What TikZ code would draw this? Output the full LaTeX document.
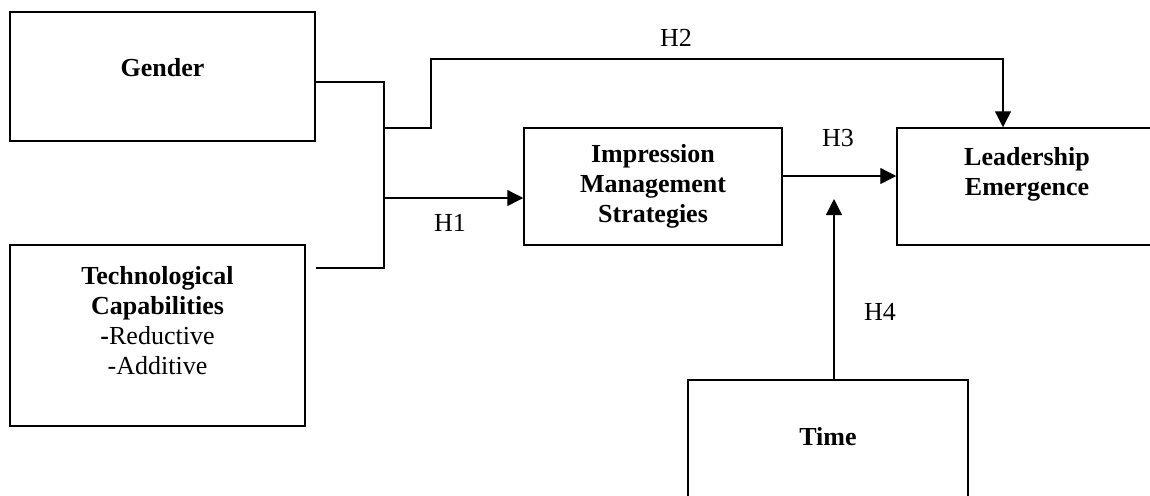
\documentclass[tikz,border=0pt]{standalone}
\usepackage{fontspec}
\setmainfont{Liberation Serif}
\usetikzlibrary{positioning, arrows.meta, calc}

\begin{document}
\begin{tikzpicture}[
  x=0.5pt, y=-0.5pt,
  box/.style={draw, line width=0.75pt, align=center, inner sep=0pt, font=\fontsize{13}{15}\selectfont},
  lbl/.style={inner sep=0pt, font=\fontsize{13}{15}\selectfont},
  arr/.style={-{Triangle[length=8pt, width=8pt]}, line width=0.65pt},
  link/.style={line width=0.65pt},
]
\clip (0,0) rectangle (1150,495);

% === PREDICTORS ===
\node[box, minimum width=152.5pt, minimum height=64.5pt, text depth=9pt] (gender) at (162.5,76.5) {\textbf{Gender}};
\node[box, minimum width=147.5pt, minimum height=90.5pt] (tech) at (157.5,335.5) {\textbf{Technological}\\\textbf{Capabilities}\\\textbf{-}Reductive\\-Additive\\\mbox{}};

% === MEDIATOR / OUTCOME ===
\node[box, minimum width=129pt, minimum height=58.5pt] (ims) at (653,186.5) {\textbf{Impression}\\\textbf{Management}\\\textbf{Strategies}};
\node[box, minimum width=130pt, minimum height=58.5pt] (lead) at (1027,186.5) {\textbf{Leadership}\\\textbf{Emergence}\\\mbox{}};

% === MODERATOR ===
\node[box, minimum width=140pt, minimum height=62pt, text depth=6pt] (time) at (828,442) {\textbf{Time}};

% junction points
\coordinate (jtop) at (384,82);
\coordinate (jbot) at (384,268);
\coordinate (h2fork) at (384,128);
\coordinate (h2bend) at (431,59);
\coordinate (h1fork) at (384,198);
\coordinate (h4tip) at (834,199);

\draw[link] (gender.east |- jtop) -- (jtop) -- (jbot) -- ([xshift=5pt]tech.east |- jbot);

\draw[arr] (h2fork) -| (h2bend) -| ([xshift=-12pt]lead.north);
\draw[arr] (h1fork) -- (ims.west |- h1fork);
\draw[arr] ([yshift=5.25pt]ims.east) -- ([yshift=5.25pt]lead.west);
\draw[arr] (time.north -| h4tip) -- (h4tip);

% hypothesis labels
\node[lbl] (h1) at (450,223) {H1};
\node[lbl] (h2) at (676,38) {H2};
\node[lbl] (h3) at (838,138) {H3};
\node[lbl] (h4) at (880,312) {H4};

\end{tikzpicture}
\end{document}
